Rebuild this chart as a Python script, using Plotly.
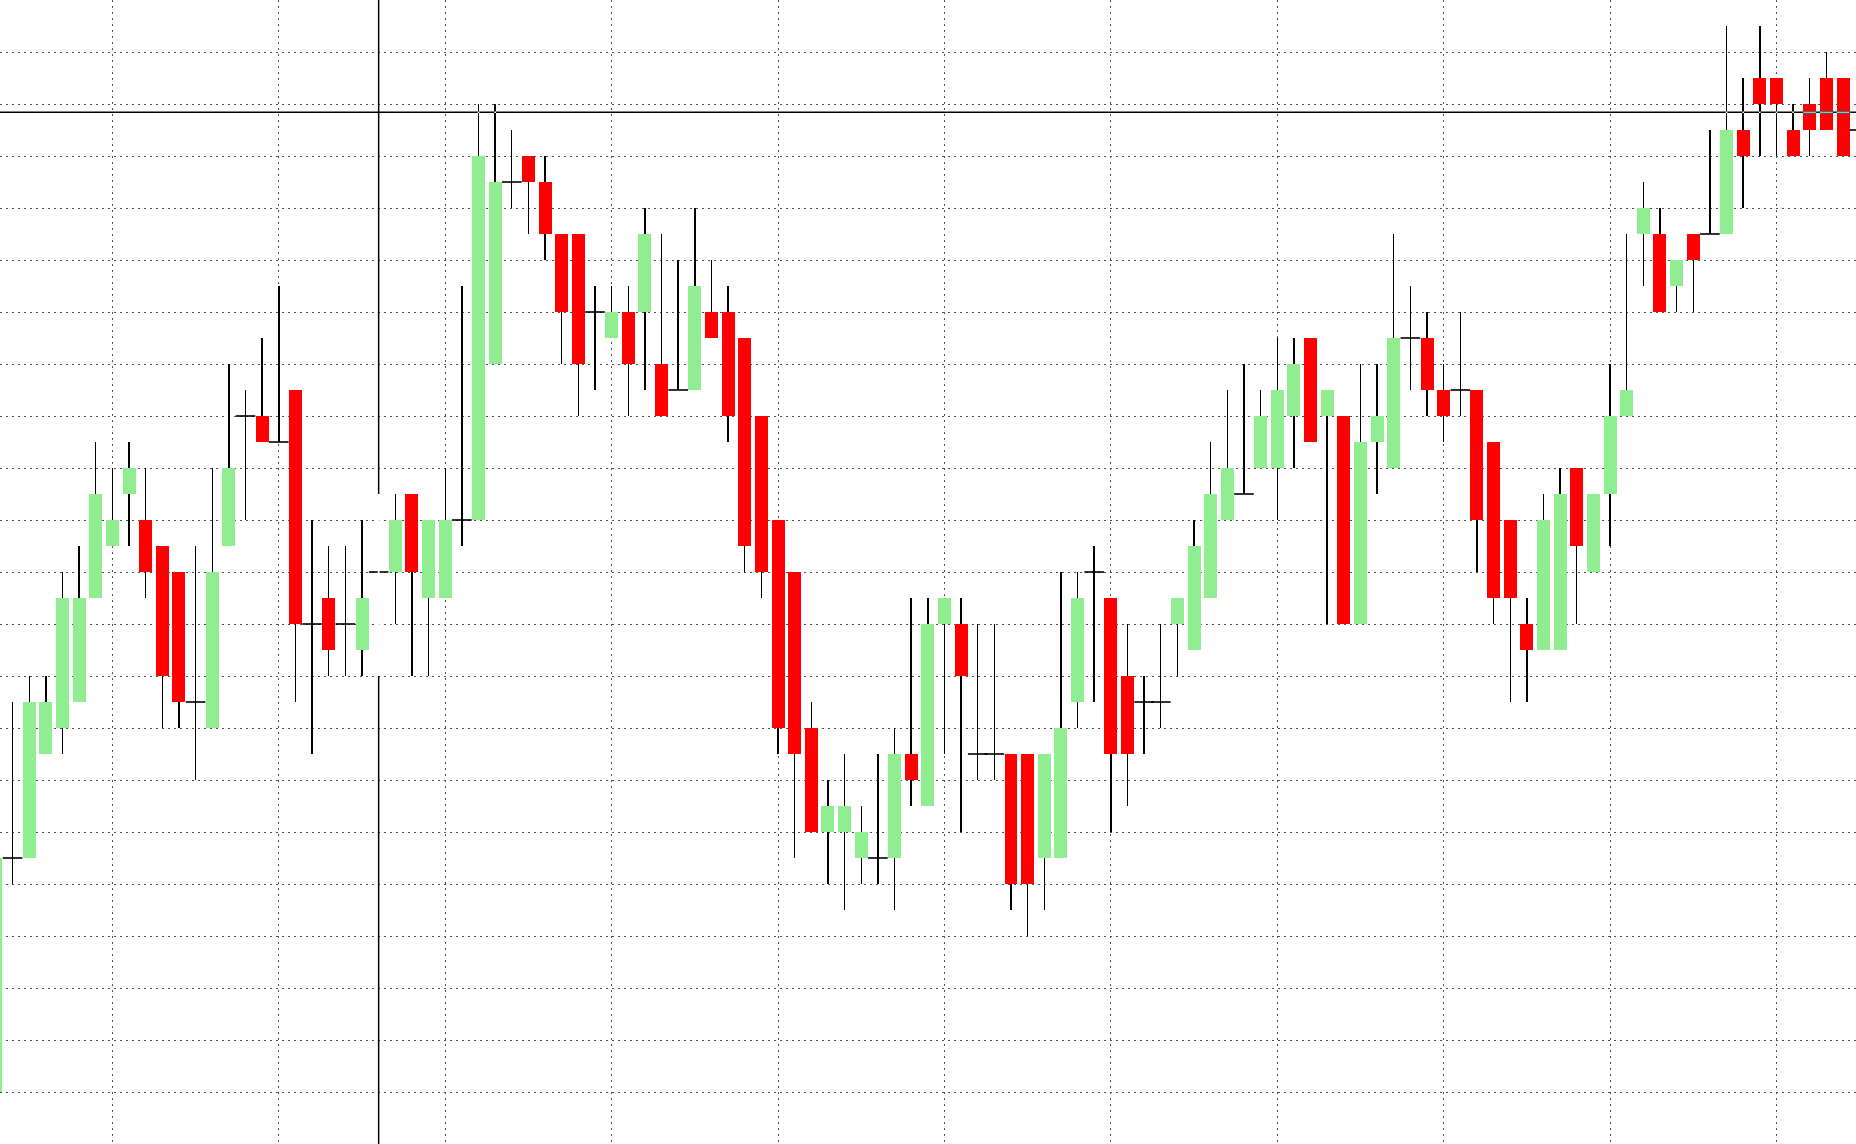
import plotly.graph_objects as go

# ---- data (price in points) ----
bar_index = list(range(113))
open_ = [2, 11, 11, 15, 16, 17, 21, 23, 25, 24, 23, 22, 17, 16, 23, 28, 28, 27, 29, 20,
         21, 20, 19, 22, 22, 25, 21, 21, 24, 24, 30, 37, 38, 37, 35, 35, 32, 31, 32, 32,
         30, 29, 29, 32, 32, 31, 28, 24, 22, 16, 12, 12, 11, 11, 11, 15, 13, 20, 20, 15,
         15, 15, 15, 11, 11, 17, 22, 21, 18, 17, 17, 20, 19, 21, 24, 25, 26, 26, 28, 31,
         28, 28, 20, 27, 26, 31, 31, 29, 29, 29, 27, 24, 20, 19, 19, 26, 22, 25, 28, 35,
         35, 33, 35, 35, 35, 39, 41, 41, 39, 40, 41, 41, 39]
high = [12, 17, 18, 18, 22, 23, 27, 26, 27, 26, 23, 22, 23, 26, 30, 29, 31, 33, 29, 24,
        23, 23, 24, 25, 25, 25, 24, 26, 33, 40, 40, 39, 38, 38, 35, 35, 33, 33, 33, 36,
        35, 34, 36, 34, 33, 31, 28, 24, 22, 17, 14, 15, 13, 15, 16, 21, 21, 21, 21, 20,
        20, 15, 15, 15, 22, 22, 23, 21, 20, 18, 20, 21, 24, 27, 29, 30, 29, 31, 31, 31,
        29, 28, 30, 30, 35, 33, 32, 30, 32, 29, 27, 24, 21, 25, 26, 26, 25, 30, 35, 37,
        36, 34, 35, 39, 43, 41, 43, 41, 40, 41, 42, 41, 40]
low = [1, 10, 11, 15, 15, 17, 21, 23, 23, 21, 16, 16, 14, 16, 23, 24, 27, 27, 17, 15,
       18, 18, 18, 18, 20, 18, 18, 21, 23, 24, 30, 36, 35, 34, 30, 28, 29, 31, 28, 29,
       28, 29, 29, 31, 27, 22, 21, 15, 11, 12, 10, 9, 10, 10, 9, 13, 13, 15, 12, 14,
       14, 9, 8, 9, 11, 16, 17, 12, 13, 15, 16, 18, 19, 21, 24, 25, 26, 24, 26, 27,
       20, 20, 20, 25, 26, 29, 28, 27, 28, 22, 20, 17, 17, 19, 19, 20, 22, 23, 28, 33,
       32, 32, 32, 35, 35, 36, 38, 38, 38, 38, 39, 38, 38]
close = [11, 11, 17, 17, 21, 21, 25, 24, 26, 22, 18, 17, 17, 22, 26, 28, 27, 27, 20, 20,
         19, 20, 21, 22, 24, 22, 24, 24, 24, 38, 37, 37, 37, 35, 32, 30, 32, 32, 30, 35,
         28, 29, 33, 31, 28, 23, 22, 16, 15, 12, 13, 13, 12, 11, 15, 14, 20, 21, 18, 15,
         15, 10, 10, 15, 16, 21, 22, 15, 15, 17, 17, 21, 23, 25, 26, 25, 28, 29, 30, 27,
         29, 20, 27, 28, 31, 31, 29, 28, 29, 24, 21, 21, 19, 24, 25, 23, 25, 28, 29, 36,
         32, 34, 34, 35, 39, 38, 40, 40, 38, 39, 39, 38, 39]

crosshair_bar = 23       # vertical crosshair through this bar
crosshair_price = 39.68  # horizontal crosshair level

# ---- styling ----
BULL = "#90EE90"
BEAR = "#FF0000"
BODY_W = 0.78
WICK_W = 0.085
X_RANGE = [0.245, 111.78]
Y_RANGE = [0, 44]

fig = go.Figure()

# wicks (thin bars, so they sit below the bodies in the same layer)
fig.add_trace(go.Bar(x=bar_index,
                     y=[h - lo for h, lo in zip(high, low)],
                     base=low, width=WICK_W,
                     marker=dict(color="black", line=dict(width=0)),
                     hoverinfo="skip", showlegend=False))

# bodies
bx, bbase, bh, bcol = [], [], [], []
dx, dy = [], []
for i, o, c in zip(bar_index, open_, close):
    if o == c:
        dx.append(i)
        dy.append(o)
    else:
        bx.append(i)
        bbase.append(min(o, c))
        bh.append(abs(c - o))
        bcol.append(BULL if c > o else BEAR)
fig.add_trace(go.Bar(x=bx, y=bh, base=bbase, width=BODY_W,
                     marker=dict(color=bcol, line=dict(width=0)),
                     hoverinfo="skip", showlegend=False))

# doji ticks
fig.add_trace(go.Scatter(x=dx, y=dy, mode="markers",
                         marker=dict(symbol="line-ew", size=14,
                                     line=dict(color="black", width=1.6)),
                         hoverinfo="skip", showlegend=False))

# ---- crosshair (XOR-style drawing) ----
shapes = []
ci = crosshair_bar
shapes.append(dict(type="line", xref="x", yref="y", x0=ci, x1=ci,
                   y0=high[ci], y1=Y_RANGE[1], line=dict(color="black", width=1.5)))
shapes.append(dict(type="line", xref="x", yref="y", x0=ci, x1=ci,
                   y0=Y_RANGE[0], y1=low[ci], line=dict(color="black", width=1.5)))
shapes.append(dict(type="line", xref="x", yref="y", x0=ci, x1=ci,
                   y0=low[ci], y1=high[ci], line=dict(color="white", width=1.8)))
shapes.append(dict(type="line", xref="x", yref="y", x0=X_RANGE[0], x1=X_RANGE[1],
                   y0=crosshair_price, y1=crosshair_price,
                   line=dict(color="black", width=1.5)))
for i, o, h, lo, c in zip(bar_index, open_, high, low, close):
    top, bot = max(o, c), min(o, c)
    if o != c and bot < crosshair_price < top:
        col = "#00FFFF" if c < o else "#6F116F"
        shapes.append(dict(type="line", xref="x", yref="y",
                           x0=i - BODY_W / 2, x1=i + BODY_W / 2,
                           y0=crosshair_price, y1=crosshair_price,
                           line=dict(color=col, width=1.5)))
    elif lo < crosshair_price < h:
        shapes.append(dict(type="line", xref="x", yref="y",
                           x0=i - 0.05, x1=i + 0.05,
                           y0=crosshair_price, y1=crosshair_price,
                           line=dict(color="white", width=1.5)))

grid_style = dict(showgrid=True, gridcolor="#505050", gridwidth=1, griddash="2px,4px",
                  showticklabels=False, zeroline=False, showline=False, ticks="",
                  fixedrange=True)

fig.update_layout(
    width=1856, height=1144,
    margin=dict(l=0, r=0, t=0, b=0, pad=0),
    paper_bgcolor="white", plot_bgcolor="white",
    barmode="overlay", bargap=0, showlegend=False,
    shapes=shapes,
    xaxis=dict(range=X_RANGE, tick0=7, dtick=10, **grid_style),
    yaxis=dict(range=Y_RANGE, tick0=0, dtick=2, **grid_style),
)

fig.write_html("out.html", config={"displayModeBar": False, "staticPlot": True},
               post_script="document.body.style.margin='0';document.body.style.overflow='hidden';document.documentElement.style.overflow='hidden';")
